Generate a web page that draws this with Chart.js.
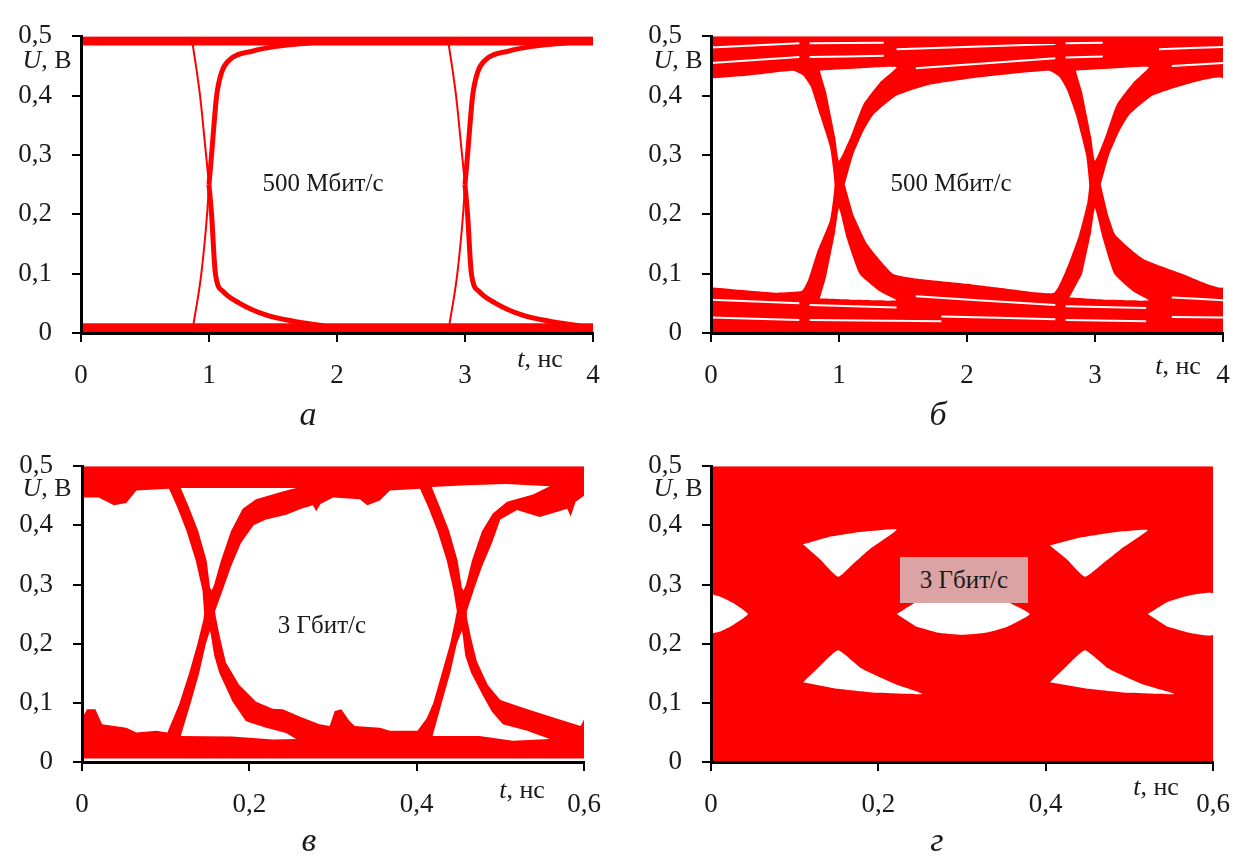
<!DOCTYPE html>
<html lang="ru">
<head>
<meta charset="UTF-8">
<title>Глазковые диаграммы</title>
<script src="https://cdn.jsdelivr.net/npm/chart.js"></script>
<style>
  body { margin: 0; background: #fff; }
  #page { position: relative; width: 1236px; height: 858px; overflow: hidden;
          font-family: "Liberation Serif", "Times New Roman", serif; color: #1a1a1a; }
  #page canvas { position: absolute; }
  .t { position: absolute; white-space: nowrap; transform: translate(-50%, -50%); z-index: 2; }
  .rate { font-size: 25px; }
  .ax { font-size: 26px; }
  .cap { font-size: 34px; font-style: italic; }
  .box { position: absolute; background: #dba3a3; z-index: 1; }
</style>
</head>
<body>
<div id="page">
  <canvas id="chA" width="620" height="400" style="left:0;top:0"></canvas>
  <canvas id="chB" width="606" height="400" style="left:630px;top:0"></canvas>
  <canvas id="chV" width="610" height="428" style="left:0;top:430px"></canvas>
  <canvas id="chG" width="606" height="428" style="left:630px;top:430px"></canvas>

  <span class="t rate" style="left:323px;top:183px">500 Мбит/с</span>
  <span class="t rate" style="left:951px;top:183px">500 Мбит/с</span>
  <span class="t rate" style="left:322px;top:625px">3 Гбит/с</span>
  <div class="box" style="left:900px;top:557px;width:128px;height:46px"></div>
  <span class="t rate" style="left:964px;top:580px">3 Гбит/с</span>

  <span class="t ax" style="left:47px;top:60px"><i>U</i>, В</span>
  <span class="t ax" style="left:678px;top:60px"><i>U</i>, В</span>
  <span class="t ax" style="left:47px;top:488px"><i>U</i>, В</span>
  <span class="t ax" style="left:678px;top:488px"><i>U</i>, В</span>

  <span class="t ax" style="left:540px;top:359px"><i>t</i>, нс</span>
  <span class="t ax" style="left:1178px;top:366px"><i>t</i>, нс</span>
  <span class="t ax" style="left:522px;top:790px"><i>t</i>, нс</span>
  <span class="t ax" style="left:1156px;top:787px"><i>t</i>, нс</span>

  <span class="t cap" style="left:308px;top:414px">а</span>
  <span class="t cap" style="left:938px;top:414px">б</span>
  <span class="t cap" style="left:309px;top:840px">в</span>
  <span class="t cap" style="left:937px;top:840px">г</span>
</div>
<script>
// оси
const yVals = [0, 0.1, 0.2, 0.3, 0.4, 0.5];
const yLabels = ['0', '0,1', '0,2', '0,3', '0,4', '0,5'];
const slowVals = [0, 1, 2, 3, 4];
const slowLabels = ['0', '1', '2', '3', '4'];
const fastVals = [0, 0.2, 0.4, 0.6];
const fastLabels = ['0', '0,2', '0,4', '0,6'];

// а: 500 Мбит/с, [t, U]
const aHigh = [[0, 0.492], [4, 0.492]];
const aLow = [[0, 0.009], [4, 0.009]];
const aFallHead1 = [[0.87, 0.49], [0.93, 0.40], [0.977, 0.30], [1.0, 0.25]];
const aFallTail1 = [[1.0, 0.25], [1.02, 0.2], [1.05, 0.1], [1.11, 0.07], [1.24, 0.05], [1.45, 0.03], [1.66, 0.02], [1.9, 0.012]];
const aRiseHead1 = [[0.875, 0.01], [0.94, 0.1], [0.985, 0.2], [1.0, 0.25]];
const aRiseTail1 = [[1.0, 0.25], [1.02, 0.3], [1.06, 0.4], [1.1, 0.44], [1.16, 0.46], [1.34, 0.475], [1.53, 0.483], [1.8, 0.489]];
const aFallHead2 = [[2.87, 0.49], [2.93, 0.40], [2.977, 0.30], [3.0, 0.25]];
const aFallTail2 = [[3.0, 0.25], [3.02, 0.2], [3.05, 0.1], [3.11, 0.07], [3.24, 0.05], [3.45, 0.03], [3.66, 0.02], [3.9, 0.012]];
const aRiseHead2 = [[2.875, 0.01], [2.94, 0.1], [2.985, 0.2], [3.0, 0.25]];
const aRiseTail2 = [[3.0, 0.25], [3.02, 0.3], [3.06, 0.4], [3.1, 0.44], [3.16, 0.46], [3.34, 0.475], [3.53, 0.483], [3.8, 0.489]];

// б: 500 Мбит/с с разбросом, заливка и просветы
const bBand = [[0, 0], [4, 0], [4, 0.5], [0, 0.5]];
const bEyeL = [[0, 0.429], [0.3, 0.434], [0.64, 0.442], [0.72, 0.434], [0.78, 0.415], [0.85, 0.368], [0.93, 0.313], [0.965, 0.25],
  [0.93, 0.19], [0.83, 0.137], [0.76, 0.09], [0.71, 0.071], [0.5, 0.068], [0, 0.077]];
const bEyeM = [[1.045, 0.25], [1.11, 0.3], [1.19, 0.34], [1.27, 0.368], [1.45, 0.4], [1.7, 0.418], [2.1, 0.431], [2.64, 0.442],
  [2.72, 0.432], [2.78, 0.41], [2.85, 0.368], [2.93, 0.3], [2.955, 0.25], [2.94, 0.22], [2.875, 0.165], [2.8, 0.12],
  [2.68, 0.068], [2.3, 0.075], [2.0, 0.083], [1.6, 0.092], [1.42, 0.1], [1.22, 0.15], [1.11, 0.2]];
const bEyeR = [[3.045, 0.25], [3.11, 0.3], [3.19, 0.34], [3.27, 0.368], [3.45, 0.4], [3.7, 0.418], [4, 0.428],
  [4, 0.078], [3.69, 0.099], [3.375, 0.125], [3.16, 0.165], [3.1, 0.2]];
const bTop1 = [[0.85, 0.442], [1.1, 0.445], [1.45, 0.448], [1.32, 0.422], [1.19, 0.385], [1.09, 0.33], [1.0, 0.29], [0.97, 0.33], [0.9, 0.405]];
const bTop2 = [[2.85, 0.442], [3.1, 0.445], [3.42, 0.448], [3.3, 0.422], [3.17, 0.385], [3.08, 0.33], [3.0, 0.29], [2.97, 0.33], [2.9, 0.405]];
const bBot1 = [[0.85, 0.058], [1.1, 0.056], [1.45, 0.055], [1.32, 0.07], [1.16, 0.1], [1.06, 0.16], [1.0, 0.21], [0.97, 0.17], [0.9, 0.095]];
const bBot2 = [[2.8, 0.06], [3.1, 0.056], [3.42, 0.055], [3.3, 0.07], [3.15, 0.1], [3.06, 0.16], [3.0, 0.21], [2.97, 0.17], [2.9, 0.1]];
const bGaps = [
  [[0, 0.481], [0.69, 0.488]], [[0.77, 0.488], [1.35, 0.489]], [[1.45, 0.478], [2.69, 0.487]], [[2.77, 0.488], [3.06, 0.489]], [[3.5, 0.478], [4, 0.482]],
  [[0, 0.455], [0.69, 0.465]], [[0.77, 0.465], [1.35, 0.467]], [[1.6, 0.446], [2.69, 0.463]], [[2.77, 0.464], [3.06, 0.466]], [[3.6, 0.45], [4, 0.455]],
  [[0, 0.056], [0.69, 0.05]], [[0.77, 0.047], [1.45, 0.043]], [[1.6, 0.062], [2.69, 0.047]], [[2.77, 0.045], [3.4, 0.042]], [[3.6, 0.06], [4, 0.055]],
  [[0, 0.026], [0.69, 0.022]], [[0.77, 0.022], [1.8, 0.02]], [[1.8, 0.028], [2.69, 0.023]], [[2.77, 0.022], [3.4, 0.02]], [[3.6, 0.027], [4, 0.026]]
];

// в: 3 Гбит/с
const vBand = [[0, 0.006], [0.6, 0.006], [0.6, 0.5], [0, 0.5]];
const vEyeL = [[0, 0.447], [0.02, 0.447], [0.03, 0.44], [0.038, 0.434], [0.053, 0.438], [0.065, 0.459], [0.104, 0.462],
  [0.114, 0.43], [0.125, 0.39], [0.136, 0.34], [0.144, 0.29], [0.146, 0.25], [0.145, 0.24], [0.138, 0.2], [0.128, 0.15],
  [0.116, 0.097], [0.102, 0.05], [0.089, 0.053], [0.065, 0.05], [0.053, 0.058], [0.024, 0.064], [0.016, 0.089],
  [0.006, 0.089], [0, 0.074]];
const vEyeM = [[0.159, 0.255], [0.168, 0.29], [0.178, 0.33], [0.19, 0.37], [0.205, 0.4], [0.22, 0.41], [0.244, 0.418],
  [0.262, 0.428], [0.276, 0.434], [0.28, 0.424], [0.285, 0.436], [0.3, 0.447], [0.332, 0.444], [0.341, 0.434], [0.356, 0.442],
  [0.368, 0.459], [0.404, 0.462], [0.414, 0.43], [0.425, 0.39], [0.436, 0.34], [0.444, 0.29], [0.448, 0.255], [0.446, 0.24],
  [0.44, 0.2], [0.43, 0.15], [0.42, 0.1], [0.412, 0.074], [0.401, 0.053], [0.368, 0.053], [0.356, 0.058], [0.326, 0.061],
  [0.32, 0.069], [0.31, 0.089], [0.302, 0.086], [0.296, 0.061], [0.284, 0.064], [0.26, 0.077], [0.24, 0.089], [0.228, 0.09],
  [0.208, 0.102], [0.188, 0.13], [0.172, 0.168], [0.165, 0.21], [0.16, 0.245]];
const vEyeR = [[0.46, 0.255], [0.468, 0.29], [0.478, 0.33], [0.49, 0.37], [0.5, 0.41], [0.52, 0.426], [0.547, 0.414],
  [0.58, 0.428], [0.584, 0.415], [0.59, 0.44], [0.6, 0.45], [0.6, 0.072], [0.596, 0.061], [0.571, 0.072], [0.539, 0.086],
  [0.52, 0.095], [0.5, 0.105], [0.485, 0.13], [0.472, 0.17], [0.465, 0.21], [0.46, 0.245]];
const vTop1 = [[0.118, 0.463], [0.256, 0.463], [0.244, 0.459], [0.208, 0.444], [0.192, 0.428], [0.178, 0.39], [0.166, 0.34],
  [0.158, 0.3], [0.155, 0.29], [0.153, 0.295], [0.149, 0.34], [0.139, 0.39], [0.128, 0.43]];
const vTop2 = [[0.418, 0.465], [0.46, 0.468], [0.507, 0.47], [0.559, 0.466], [0.539, 0.452], [0.508, 0.44], [0.491, 0.42],
  [0.478, 0.39], [0.466, 0.34], [0.459, 0.3], [0.456, 0.29], [0.454, 0.295], [0.449, 0.34], [0.439, 0.39], [0.428, 0.43]];
const vBot1 = [[0.153, 0.222], [0.148, 0.2], [0.14, 0.15], [0.13, 0.1], [0.118, 0.044], [0.18, 0.043], [0.228, 0.038],
  [0.256, 0.039], [0.244, 0.049], [0.22, 0.058], [0.196, 0.069], [0.18, 0.102], [0.164, 0.151], [0.158, 0.18], [0.154, 0.215]];
const vBot2 = [[0.454, 0.222], [0.448, 0.2], [0.44, 0.15], [0.43, 0.1], [0.419, 0.044], [0.475, 0.044], [0.515, 0.036],
  [0.559, 0.039], [0.532, 0.053], [0.503, 0.064], [0.49, 0.085], [0.48, 0.11], [0.465, 0.151], [0.458, 0.18], [0.455, 0.215]];

// г: 3 Гбит/с, глаз почти закрыт
const gBand = [[0, 0], [0.6, 0], [0.6, 0.5], [0, 0.5]];
const gLensL = [[0, 0.284], [0.012, 0.279], [0.026, 0.269], [0.044, 0.25], [0.026, 0.231], [0.012, 0.221], [0, 0.217]];
const gLensM = [[0.222, 0.25], [0.245, 0.27], [0.27, 0.281], [0.3, 0.285], [0.33, 0.281], [0.355, 0.27], [0.381, 0.25],
  [0.355, 0.229], [0.33, 0.219], [0.3, 0.215], [0.27, 0.219], [0.245, 0.229]];
const gLensR = [[0.522, 0.25], [0.545, 0.27], [0.57, 0.281], [0.6, 0.285], [0.6, 0.215], [0.57, 0.219], [0.545, 0.229]];
const gTop1 = [[0.11, 0.368], [0.14, 0.38], [0.18, 0.389], [0.222, 0.393], [0.19, 0.36], [0.17, 0.335], [0.152, 0.313], [0.13, 0.343]];
const gTop2 = [[0.405, 0.366], [0.44, 0.379], [0.48, 0.388], [0.522, 0.392], [0.49, 0.36], [0.468, 0.335], [0.447, 0.313], [0.425, 0.343]];
const gBot1 = [[0.11, 0.135], [0.13, 0.162], [0.152, 0.189], [0.18, 0.158], [0.22, 0.132], [0.253, 0.115], [0.2, 0.117], [0.15, 0.124]];
const gBot2 = [[0.405, 0.135], [0.425, 0.162], [0.447, 0.189], [0.475, 0.158], [0.515, 0.132], [0.554, 0.115], [0.5, 0.117], [0.45, 0.124]];

const RED = '#ff0000';
const WHITE = '#ffffff';

function toXY(pts) {
  return pts.map(p => ({ x: p[0], y: p[1] }));
}

// замкнутая область; order побольше - рисуется раньше
function area(pts, color, order, tension) {
  return { data: toXY(pts), showLine: true, fill: 'shape', backgroundColor: color,
           borderWidth: 0, pointRadius: 0, tension: tension || 0, order: order };
}

// линия осциллограммы
function trace(pts, color, w) {
  return { data: toXY(pts), showLine: true, fill: false, borderColor: color,
           borderWidth: w, pointRadius: 0, cubicInterpolationMode: 'monotone', order: 0 };
}

const tickFont = { family: 'Liberation Serif', size: 27 };

function makeChart(id, p) {
  return new Chart(document.getElementById(id), {
    type: 'scatter',
    data: { datasets: p.datasets },
    options: {
      responsive: false,
      animation: false,
      events: [],
      showLine: true,
      layout: { padding: p.pad },
      plugins: { legend: { display: false }, tooltip: { enabled: false } },
      scales: {
        x: {
          type: 'linear', min: p.xVals[0], max: p.xVals[p.xVals.length - 1],
          afterBuildTicks: s => { s.ticks = p.xVals.map(v => ({ value: v })); },
          afterFit: s => { s.height = p.xh; s.paddingLeft = 0; s.paddingRight = 0; },
          ticks: { callback: (v, i) => p.xLabels[i], padding: 18, color: '#1a1a1a', font: tickFont,
                   maxRotation: 0, autoSkip: false },
          grid: { drawOnChartArea: false, drawTicks: true, tickLength: 9, color: '#000', lineWidth: 2 },
          border: { color: '#000', width: 3, z: 1 }
        },
        y: {
          type: 'linear', min: 0, max: 0.5,
          afterBuildTicks: s => { s.ticks = yVals.map(v => ({ value: v })); },
          afterFit: s => { s.width = p.yw; },
          ticks: { callback: (v, i) => yLabels[i], padding: 20, color: '#1a1a1a', font: tickFont, autoSkip: false },
          grid: { drawOnChartArea: false, drawTicks: true, tickLength: 9, color: '#000', lineWidth: 2 },
          border: { color: '#000', width: 3, z: 1 }
        }
      }
    }
  });
}

makeChart('chA', {
  xVals: slowVals, xLabels: slowLabels, yw: 81, xh: 67,
  pad: { top: 30, right: 27, left: 0, bottom: 0 },
  datasets: [
    trace(aHigh, RED, 9), trace(aLow, RED, 9),
    trace(aFallHead1, RED, 2), trace(aRiseHead1, RED, 2),
    trace(aFallTail1, RED, 5), trace(aRiseTail1, RED, 5),
    trace(aFallHead2, RED, 2), trace(aRiseHead2, RED, 2),
    trace(aFallTail2, RED, 5), trace(aRiseTail2, RED, 5)
  ]
});

makeChart('chB', {
  xVals: slowVals, xLabels: slowLabels, yw: 81, xh: 67,
  pad: { top: 30, right: 13, left: 0, bottom: 0 },
  datasets: [
    area(bBand, RED, 2),
    area(bEyeL, WHITE, 1, 0.15), area(bEyeM, WHITE, 1, 0.15), area(bEyeR, WHITE, 1, 0.15),
    area(bTop1, WHITE, 1, 0.15), area(bTop2, WHITE, 1, 0.15), area(bBot1, WHITE, 1, 0.15), area(bBot2, WHITE, 1, 0.15)
  ].concat(bGaps.map(g => trace(g, WHITE, 2)))
});

makeChart('chV', {
  xVals: fastVals, xLabels: fastLabels, yw: 82, xh: 96,
  pad: { top: 28, right: 26, left: 0, bottom: 0 },
  datasets: [
    area(vBand, RED, 2),
    area(vEyeL, WHITE, 1), area(vEyeM, WHITE, 1), area(vEyeR, WHITE, 1),
    area(vTop1, WHITE, 1), area(vTop2, WHITE, 1), area(vBot1, WHITE, 1), area(vBot2, WHITE, 1)
  ]
});

makeChart('chG', {
  xVals: fastVals, xLabels: fastLabels, yw: 81, xh: 96,
  pad: { top: 28, right: 23, left: 0, bottom: 0 },
  datasets: [
    area(gBand, RED, 2),
    area(gLensL, WHITE, 1, 0.15), area(gLensM, WHITE, 1, 0.15), area(gLensR, WHITE, 1, 0.15),
    area(gTop1, WHITE, 1, 0.15), area(gTop2, WHITE, 1, 0.15), area(gBot1, WHITE, 1, 0.15), area(gBot2, WHITE, 1, 0.15)
  ]
});
</script>
</body>
</html>
